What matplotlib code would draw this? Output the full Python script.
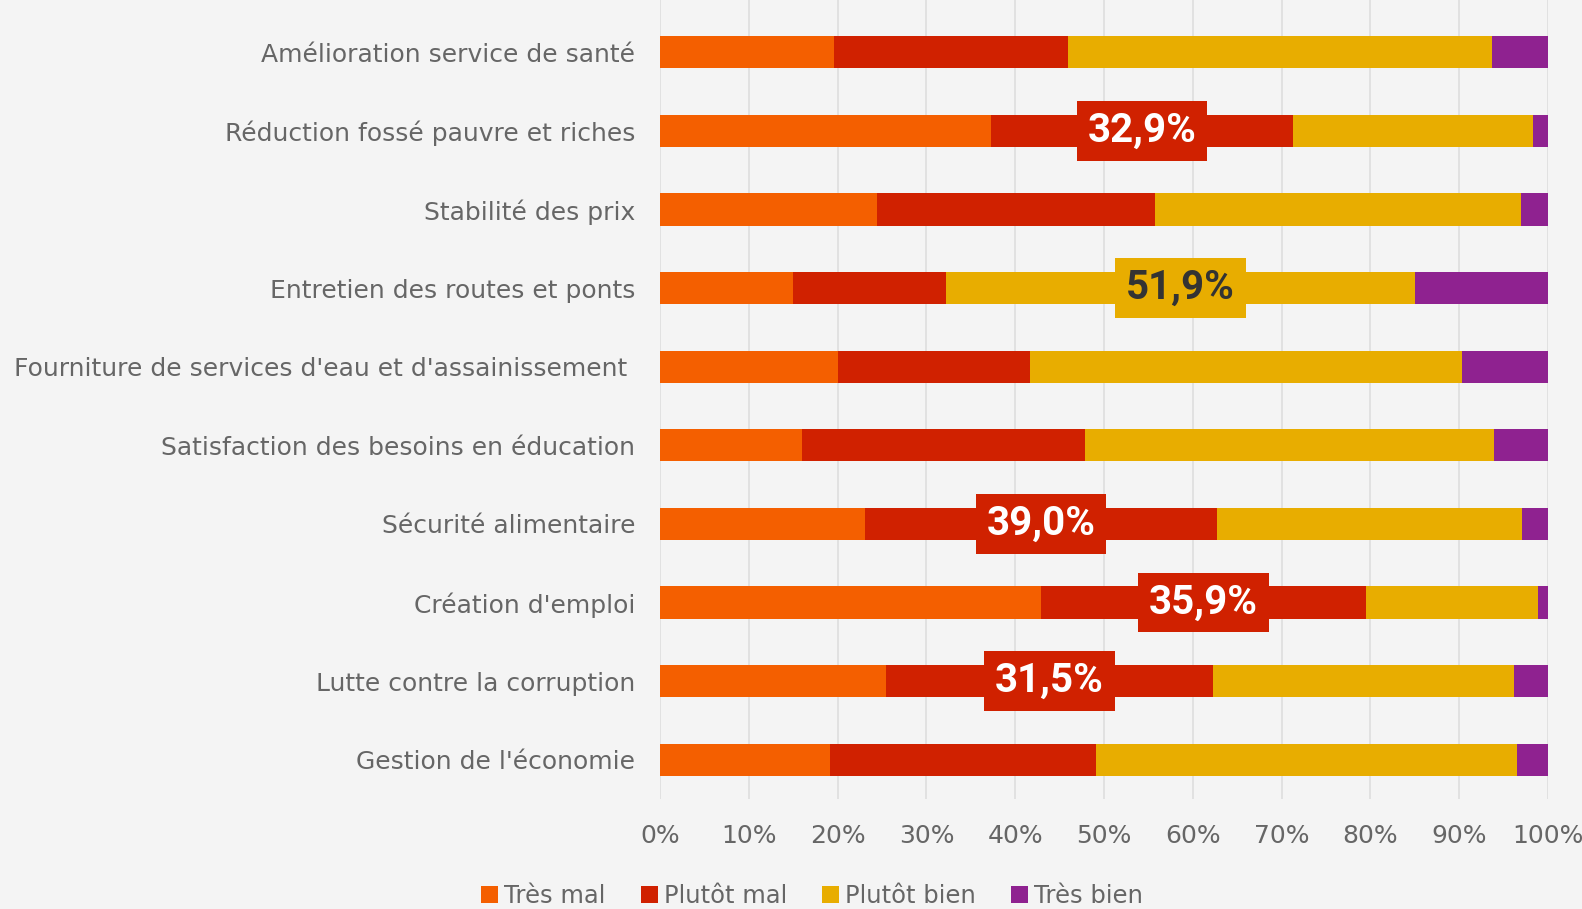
import numpy as np
import matplotlib.pyplot as plt
from matplotlib.patches import Patch

# données (en %)
categories = [
    "Amélioration service de santé",
    "Réduction fossé pauvre et riches",
    "Stabilité des prix",
    "Entretien des routes et ponts",
    "Fourniture de services d'eau et d'assainissement ",
    "Satisfaction des besoins en éducation",
    "Sécurité alimentaire",
    "Création d'emploi",
    "Lutte contre la corruption",
    "Gestion de l'économie",
]
tres_mal = [19.6, 37.3, 24.4, 15.0, 20.0, 16.0, 23.1, 42.9, 25.4, 19.1]
plutot_mal = [26.3, 34.0, 31.3, 17.2, 21.7, 31.9, 39.6, 36.6, 36.9, 30.0]
plutot_bien = [47.8, 27.0, 41.3, 52.8, 48.6, 46.0, 34.4, 19.4, 33.9, 47.4]
tres_bien = [6.3, 1.7, 3.0, 15.0, 9.7, 6.1, 2.9, 1.1, 3.8, 3.5]

series = ["Très mal", "Plutôt mal", "Plutôt bien", "Très bien"]
couleurs = ["#f45f00", "#d02100", "#e8ad00", "#8f2290"]

# étiquettes mises en avant : (ligne, série, texte)
etiquettes = [
    (1, 1, "32,9%"),
    (3, 2, "51,9%"),
    (6, 1, "39,0%"),
    (7, 1, "35,9%"),
    (8, 1, "31,5%"),
]

fond = "#f4f4f4"
gris = "#666666"

fig = plt.figure(figsize=(15.82, 9.09), dpi=100, facecolor=fond)
ax = fig.add_axes([660 / 1582, 1 - 799 / 909, 888 / 1582, 799 / 909])
ax.set_facecolor(fond)

valeurs = np.array([tres_mal, plutot_mal, plutot_bien, tres_bien])
y = np.arange(len(categories))
gauche = np.zeros(len(categories))
for i, nom in enumerate(series):
    ax.barh(y, valeurs[i], left=gauche, height=0.41, color=couleurs[i], label=nom, zorder=3)
    gauche = gauche + valeurs[i]

cumul = np.vstack([np.zeros(len(categories)), np.cumsum(valeurs, axis=0)])
for ligne, s, texte in etiquettes:
    xc = (cumul[s, ligne] + cumul[s + 1, ligne]) / 2
    couleur_txt = "#333333" if s == 2 else "white"
    ax.text(xc, ligne, texte, ha="center", va="center", fontsize=29, fontweight="bold",
            color=couleur_txt, family="Roboto", zorder=5,
            bbox=dict(boxstyle="square,pad=0.27", fc=couleurs[s], ec="none"))

ax.set_xlim(0, 100)
ax.set_ylim(9.5, -0.665)
ax.set_yticks(y)
ax.set_yticklabels(categories, fontsize=18, color=gris, family="DejaVu Sans")
ax.set_xticks(np.arange(0, 101, 10))
ax.set_xticklabels([f"{v}%" for v in range(0, 101, 10)], fontsize=18, color=gris)
ax.tick_params(axis="both", length=0)
ax.tick_params(axis="y", pad=18)
ax.tick_params(axis="x", pad=18)
ax.grid(axis="x", color="#dedede", linewidth=1.2, zorder=0)
for sp in ax.spines.values():
    sp.set_visible(False)

poignees = [Patch(facecolor=c, edgecolor="none") for c in couleurs]
fig.legend(poignees, series, loc="center", bbox_to_anchor=(812 / 1582, 1 - 896 / 909),
           ncol=4, frameon=False, fontsize=17.5, labelcolor=gris,
           handlelength=0.7, handleheight=0.7, handletextpad=0.25, columnspacing=1.45)

fig.savefig("out.png", dpi=100, facecolor=fond)
